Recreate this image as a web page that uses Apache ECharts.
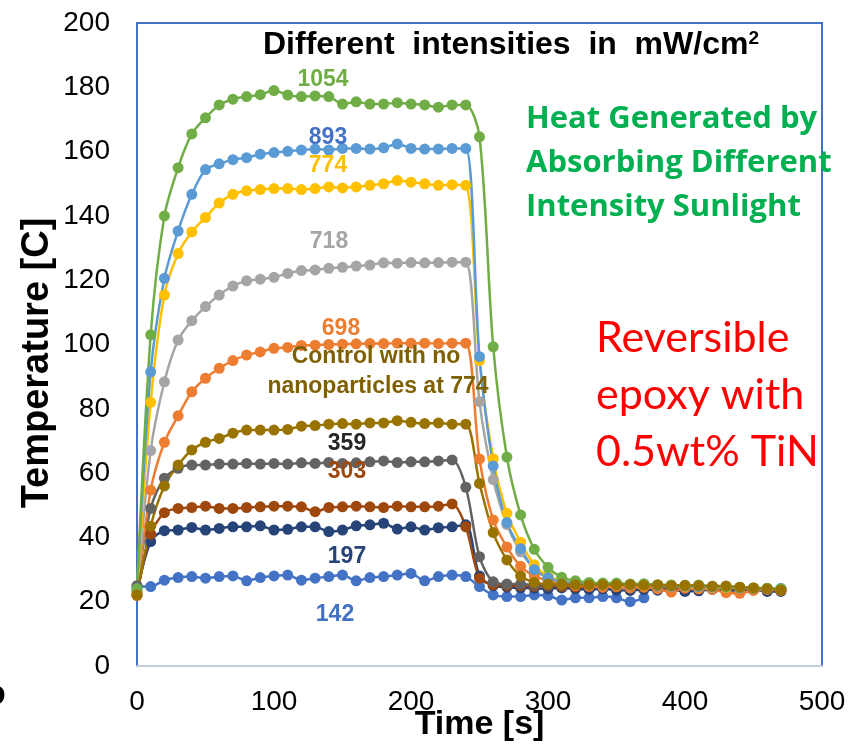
<!DOCTYPE html>
<html>
<head>
<meta charset="utf-8">
<script src="https://cdn.jsdelivr.net/npm/echarts@6/dist/echarts.min.js"></script>
<style>
  html, body { margin: 0; padding: 0; background: #fff; }
  #chart { width: 851px; height: 744px; }
</style>
</head>
<body>
<div id="chart"></div>
<script>
// time axis, seconds
var times = [0, 10, 20, 30, 40, 50, 60, 70, 80, 90, 100, 110, 120, 130, 140, 150,
  160, 170, 180, 190, 200, 210, 220, 230, 240, 250, 260, 270, 280, 290, 300, 310,
  320, 330, 340, 350, 360, 370, 380, 390, 400, 410, 420, 430, 440, 450, 460, 470];

// temperatures [C] for each intensity (mW/cm2)
var t1054 = [24, 103, 140, 155, 165.5, 170.5, 174.5, 176.3, 177.1, 177.7, 179, 177.6, 177.1, 177.3, 177.1, 174.8,
  175.5, 174.8, 174.8, 175.2, 174.8, 174.5, 173.8, 174.5, 174.5, 164.6, 99.3, 65, 47, 36.3, 30.7, 27.6,
  26.5, 26, 25.8, 25.8, 25.5, 25.6, 25.3, 25.2, 25, 25.2, 24.8, 24.6, 24.5, 24.3, 24.2, 24];
var t893 = [24, 91.5, 120.6, 135.3, 146.7, 154.4, 156.2, 157.5, 158.1, 159.2, 159.7, 160.1, 160.5, 160.8, 160.5, 161,
  161, 160.8, 161.2, 162.4, 161, 160.8, 160.8, 161, 161, 96.2, 62.2, 44.6, 36.5, 30, 27.5, 26.2,
  25.8, 25.5, 25.3, 25.5, 25.2, 25.3, 25, 24.8, 25, 24.7, 24.5, 24.6, 24.3, 24.2, 24, 24.1];
var t774 = [23, 82, 115.4, 128.3, 135, 139.5, 144, 146.7, 147.8, 148.2, 148.5, 148.5, 148.2, 148.5, 149, 148.7,
  149, 149.5, 150, 151, 150.5, 150, 149.5, 149.7, 149.5, 95, 64.5, 47.5, 38.5, 31.5, 28, 26.5,
  25.8, 25.5, 25.3, 25.2, 25.3, 25, 25.1, 24.8, 24.9, 24.6, 24.5, 24.4, 24.3, 24.2, 24, 24];
var t718 = [23, 67, 88.4, 101.4, 107.4, 111.8, 115.4, 118.2, 119.8, 120.3, 120.9, 122.1, 123, 123.2, 123.7, 124,
  124.4, 124.7, 125.4, 125.3, 125.5, 125.4, 125.5, 125.6, 125.6, 82.2, 58, 44, 35.5, 30.5, 27.8, 26.4,
  25.8, 25.5, 25.4, 25.3, 25.2, 25.3, 25, 25, 24.8, 24.9, 24.6, 24.5, 24.4, 24.2, 24.1, 24];
var t698 = [22, 54.7, 69.6, 77.8, 85.3, 89.5, 92.6, 95, 96.7, 97.7, 98.8, 99.1, 99.7, 99.8, 100, 100.1,
  100.2, 100.3, 100.3, 100.4, 100.4, 100.4, 100.3, 100.4, 100.4, 64.4, 45.4, 37, 31, 28, 26.5, 25.5,
  25, 24.8, 24.5, 24.7, 24.3, 24.5, 24, 23, 24.2, 24, 23.8, 22.8, 22.6, 23.5, 23.8, 23.5];
var tControl = [22.1, 43.5, 56, 62.5, 67.2, 69.6, 70.8, 72.4, 73.4, 73.4, 73.4, 73.6, 74.6, 74.8, 75.2, 75.4,
  75.2, 75.6, 75.6, 76.3, 75.8, 75.4, 75.6, 75.2, 75.2, 56.8, 41.5, 33, 28, 26, 25.5, 25.4,
  25.3, 25.2, 25.3, 25.2, 25.3, 25.1, 25.2, 25, 25.1, 25, 24.8, 24.9, 24.5, 24.3, 24, 23.6];
var t359 = [25, 49, 58.4, 61.5, 62.5, 62.5, 62.8, 62.8, 63, 62.8, 63, 62.8, 63.2, 63, 63.3, 63,
  63.2, 63.5, 63.8, 63.3, 63.5, 63.5, 63.8, 64.1, 55.6, 34, 26.2, 25.5, 25.5, 25.3, 25.2, 25.3,
  25.2, 25, 25.1, 25, 24.9, 25, 24.8, 24.8, 24.6, 24.7, 24.5, 24.4, 24.3, 24.2, 24.1, 24];
var t303 = [22, 41, 47.7, 49, 49.3, 49.7, 49, 49, 49.3, 49.5, 49.7, 49.7, 49.5, 48, 49.3, 49.5,
  49.7, 49.5, 49.3, 49.7, 49.5, 49.5, 49.7, 50.4, 43.3, 27.3, 25.3, 25, 25, 24.8, 24.9, 24.8,
  24.6, 24.7, 24.5, 24.6, 24.4, 24.5, 24.3, 24.2, 24.3, 24.1, 24, 24, 23.9, 23.8, 23.8, 23.7];
var t197 = [23, 38.7, 42.1, 42.3, 43.1, 42.3, 42.8, 43.3, 43.3, 43.6, 42.3, 42.5, 43.3, 43.3, 41.8, 42.3,
  43.6, 43.9, 44.4, 42.6, 43.3, 42.3, 43, 43.3, 43.9, 28, 25, 24.5, 24.3, 24.2, 24, 24.3,
  24, 23.8, 24, 23.6, 23.5, 23.8, 23.6, 23.8, 23.2, 23.4, 23.8, 23.6, 23.5, 23.7, 23.2, 23.2];
var t142 = [24.7, 24.7, 26.7, 27.5, 27.8, 27.3, 27.8, 28, 26.5, 27.5, 28, 28.3, 26.7, 27.3, 27.8, 28.3,
  26.5, 27.5, 27.8, 28.3, 28.8, 26.5, 27.8, 28.3, 27.8, 24.7, 22.1, 21.6, 21.6, 22.1, 21.9, 20.5,
  21.2, 21.2, 21.6, 21.2, 20, 21.2];

var xTicks = [0, 100, 200, 300, 400, 500];
var yTicks = [0, 20, 40, 60, 80, 100, 120, 140, 160, 180, 200];

function pair(vals) {
  var out = [];
  for (var i = 0; i < vals.length; i++) out.push([times[i], vals[i]]);
  return out;
}

function line(name, vals, color) {
  return {
    name: name,
    type: 'line',
    data: pair(vals),
    smooth: 0.3,
    symbol: 'circle',
    symbolSize: 11,
    showSymbol: true,
    lineStyle: { color: color, width: 2.5 },
    itemStyle: { color: color },
    animation: false
  };
}

function label(text, x, y, color, size) {
  return {
    type: 'text',
    x: x, y: y,
    style: {
      text: text,
      fill: color,
      font: 'bold ' + (size || 23) + 'px "Liberation Sans", Arial, sans-serif',
      textAlign: 'center',
      textVerticalAlign: 'middle'
    },
    z: 100
  };
}

var option = {
  backgroundColor: '#fff',
  animation: false,
  grid: {
    left: 137, right: 29, top: 23, bottom: 78,
    outerBoundsMode: 'none',
    containLabel: false,
    show: true,
    borderColor: '#4472C4',
    borderWidth: 2
  },
  xAxis: {
    type: 'value',
    min: xTicks[0], max: xTicks[xTicks.length - 1], interval: 100,
    name: 'Time [s]',
    nameLocation: 'middle',
    nameGap: 42,
    nameMoveOverlap: false,
    nameTextStyle: { fontFamily: 'Liberation Sans', fontWeight: 'bold', fontSize: 34, color: '#000' },
    axisLine: { show: true, lineStyle: { color: '#C5CDDC', width: 2 } },
    axisTick: { show: false },
    splitLine: { show: false },
    axisLabel: { fontFamily: 'Liberation Sans', fontSize: 28, color: '#000', margin: 22 }
  },
  yAxis: {
    type: 'value',
    min: yTicks[0], max: yTicks[yTicks.length - 1], interval: 20,
    axisLine: { show: false },
    axisTick: { show: false },
    splitLine: { show: false },
    axisLabel: { fontFamily: 'Liberation Sans', fontSize: 28, color: '#000', margin: 27 }
  },
  series: [
    line('142', t142, '#4472C4'),
    line('197', t197, '#264478'),
    line('303', t303, '#9E480E'),
    line('359', t359, '#636363'),
    line('698', t698, '#ED7D31'),
    line('718', t718, '#A5A5A5'),
    line('774', t774, '#FFC000'),
    line('893', t893, '#5B9BD5'),
    line('1054', t1054, '#70AD47'),
    line('Control', tControl, '#997300')
  ],
  graphic: [
    {
      // y axis title
      type: 'text', x: 38, y: 363, rotation: Math.PI / 2, z: 100,
      style: {
        text: 'Temperature [C]',
        fill: '#000',
        font: 'bold 38px "Liberation Sans", Arial, sans-serif',
        textAlign: 'center', textVerticalAlign: 'middle'
      }
    },
    {
      type: 'text', x: 263, y: 45, z: 100,
      style: {
        text: '{a|Different  intensities  in  mW/cm}{s|2}',
        rich: {
          a: { fontFamily: 'Liberation Sans', fontWeight: 'bold', fontSize: 32, fill: '#000', color: '#000' },
          s: { fontFamily: 'Liberation Sans', fontWeight: 'bold', fontSize: 19, fill: '#000', color: '#000', verticalAlign: 'top' }
        },
        textAlign: 'left', textVerticalAlign: 'middle'
      }
    },
    label('1054', 323, 80, '#70AD47'),
    label('893', 328, 138, '#4472C4'),
    label('774', 328, 166, '#FFC000'),
    label('718', 329, 242, '#A5A5A5'),
    label('698', 341, 329, '#ED7D31'),
    label('Control with no', 376, 357, '#7F6000'),
    label('nanoparticles at 774', 378, 387, '#7F6000'),
    label('359', 347, 444, '#262626'),
    label('303', 347, 472, '#9E480E'),
    label('197', 347, 557, '#264478'),
    label('142', 335, 615, '#4472C4'),
    {
      type: 'text', x: 526, y: 163, z: 100,
      style: {
        text: 'Heat Generated by\nAbsorbing Different\nIntensity Sunlight',
        fill: '#00B050',
        font: 'bold 31px "Open Sans", Lato, sans-serif',
        lineHeight: 44,
        textAlign: 'left', textVerticalAlign: 'middle'
      }
    },
    {
      type: 'text', x: 596, y: 395, z: 100,
      style: {
        text: 'Reversible\nepoxy with\n0.5wt% TiN',
        fill: '#FF0000',
        font: '43px Lato, "Open Sans", sans-serif',
        lineHeight: 57,
        textAlign: 'left', textVerticalAlign: 'middle'
      }
    },
    {
      type: 'text', x: -16, y: 697, z: 100,
      style: {
        text: 'D',
        fill: '#000',
        font: 'bold 30px "Liberation Sans", Arial, sans-serif',
        textAlign: 'left', textVerticalAlign: 'middle'
      }
    }
  ]
};

var myChart = echarts.init(document.getElementById('chart'), null, { renderer: 'canvas' });
myChart.setOption(option);
</script>
</body>
</html>
